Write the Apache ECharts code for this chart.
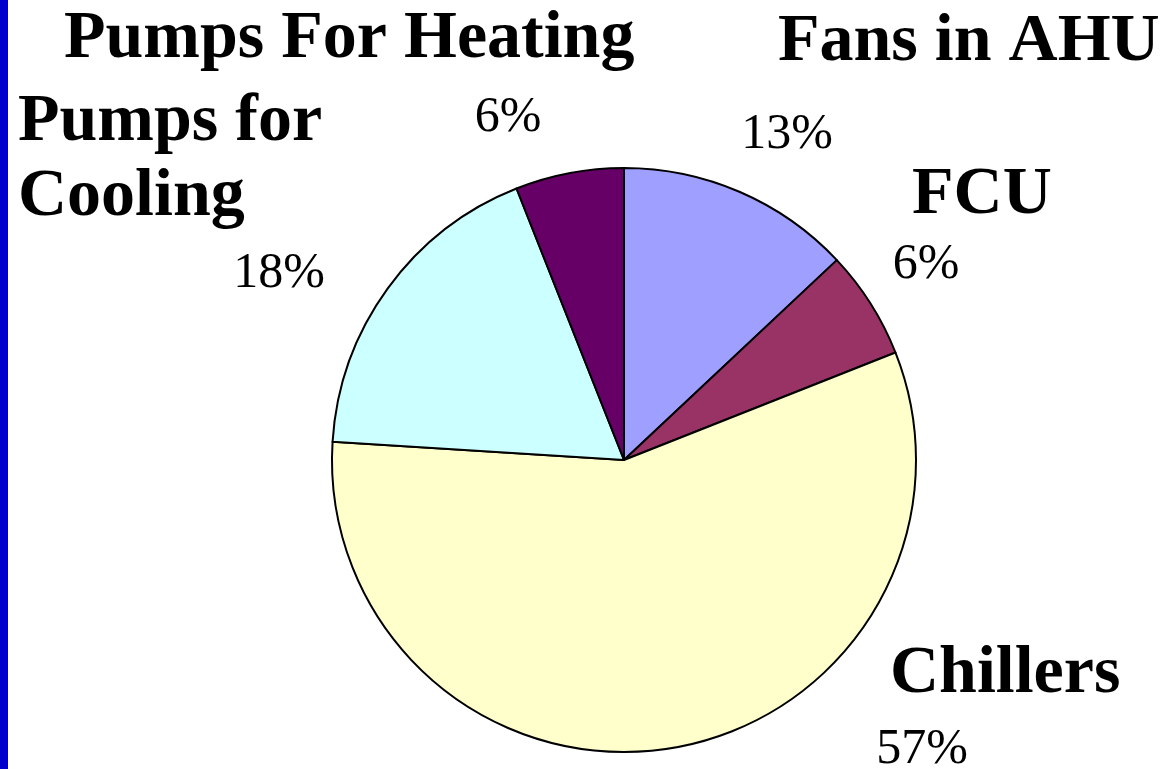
<!DOCTYPE html>
<html>
<head>
<meta charset="utf-8">
<style>
  html, body { margin: 0; padding: 0; background: #ffffff; }
  #chart { width: 1163px; height: 769px; }
</style>
<script src="https://cdn.jsdelivr.net/npm/echarts@6/dist/echarts.min.js"></script>
</head>
<body>
<div id="chart"></div>
<script>
// Energy use breakdown of the HVAC plant (percent)
const categories = ['Fans in AHU', 'FCU', 'Chillers', 'Pumps for Cooling', 'Pumps For Heating'];
const shares = [13, 6, 57, 18, 6];
const nameLabels = ['Fans in AHU', 'FCU', 'Chillers', 'Pumps for\nCooling', 'Pumps For Heating'];

const sliceColors = ['#9F9FFF', '#993366', '#FFFFCC', '#CCFFFF', '#660066'];

// where each slice's name (left edge, middle) and percentage (centre) sit
const nameSpots = [[778, 42], [912, 195], [890, 674], [18, 160], [64, 39]];
const pctSpots = [[787, 135], [926, 265], [922, 750], [279, 274], [508, 118]];

const serif = '"Liberation Serif", "Times New Roman", serif';

const chart = echarts.init(document.getElementById('chart'), null, { renderer: 'canvas' });

const texts = [];
categories.forEach((c, i) => {
  texts.push({
    type: 'text',
    x: nameSpots[i][0], y: nameSpots[i][1],
    style: {
      text: nameLabels[i], fill: '#000',
      font: 'bold 68px ' + serif,
      align: 'left', verticalAlign: 'middle', lineHeight: 75
    }
  });
  texts.push({
    type: 'text',
    x: pctSpots[i][0], y: pctSpots[i][1],
    style: {
      text: shares[i] + '%', fill: '#000',
      font: 'normal 50px ' + serif,
      align: 'center', verticalAlign: 'middle'
    }
  });
});

chart.setOption({
  backgroundColor: '#ffffff',
  animation: false,
  graphic: [
    { type: 'rect', shape: { x: 0, y: 0, width: 8, height: 769 }, style: { fill: '#0000CC' } }
  ].concat(texts),
  series: [{
    type: 'pie',
    center: [624, 460],
    radius: 292,
    startAngle: 90,
    clockwise: true,
    label: { show: false },
    labelLine: { show: false },
    emphasis: { disabled: true },
    itemStyle: { borderColor: '#000', borderWidth: 2 },
    data: categories.map((c, i) => ({
      name: c, value: shares[i], itemStyle: { color: sliceColors[i] }
    }))
  }]
});
</script>
</body>
</html>
